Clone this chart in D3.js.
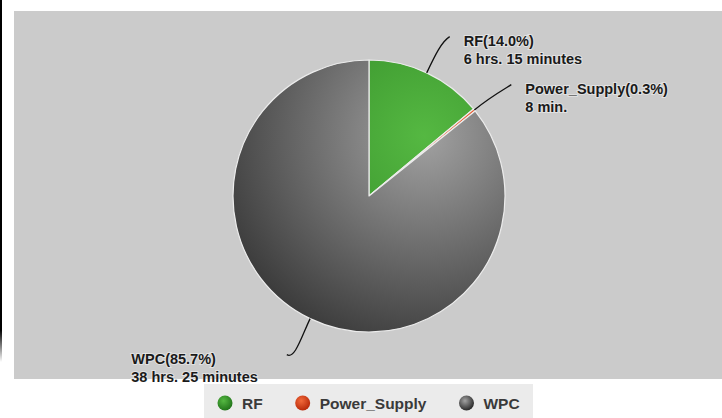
<!DOCTYPE html>
<html>
<head>
<meta charset="utf-8">
<script src="https://cdn.jsdelivr.net/npm/d3@7"></script>
<style>
  body { margin: 0; background: #fff; }
  svg { display: block; font-family: "Liberation Sans", Arial, sans-serif; }
</style>
</head>
<body>
<div id="chart"></div>
<script>
const W = 722, H = 418;

// data
const names = ["RF", "Power_Supply", "WPC"];
const minutes = [375, 8, 2305];
const pctLabels = ["14.0%", "0.3%", "85.7%"];
const durLabels = ["6 hrs. 15 minutes", "8 min.", "38 hrs. 25 minutes"];
const colorsLight = ["#55b842", "#f2693a", "#a2a2a2"];
const colorsDark = ["#22751a", "#b82a0a", "#2a2a2a"];

const cx = 369, cy = 196, radius = 136;

const svg = d3.select('#chart').append('svg')
  .attr('width', W)
  .attr('height', H);

svg.append('rect').attr('width', W).attr('height', H).attr('fill', '#fff');

const defs = svg.append('defs');

// slice gradients, light spot up and right of centre (coords relative to pie centre)
names.forEach((n, i) => {
  const g = defs.append('radialGradient')
    .attr('id', 'slice' + i)
    .attr('gradientUnits', 'userSpaceOnUse')
    .attr('cx', 55).attr('cy', -60).attr('r', 255);
  g.append('stop').attr('offset', '0%').attr('stop-color', colorsLight[i]);
  g.append('stop').attr('offset', '100%').attr('stop-color', colorsDark[i]);

  const m = defs.append('radialGradient')
    .attr('id', 'marker' + i)
    .attr('cx', '40%').attr('cy', '35%').attr('r', '65%');
  m.append('stop').attr('offset', '0%').attr('stop-color', colorsLight[i]);
  m.append('stop').attr('offset', '100%').attr('stop-color', colorsDark[i]);
});

const edge = defs.append('linearGradient')
  .attr('id', 'edgefade').attr('x1', 0).attr('y1', 0).attr('x2', 0).attr('y2', 1);
edge.append('stop').attr('offset', '0%').attr('stop-color', '#000');
edge.append('stop').attr('offset', '100%').attr('stop-color', '#fff');

// stray dark strip at the left edge
svg.append('rect').attr('x', 0).attr('y', 0).attr('width', 2).attr('height', 330).attr('fill', '#000');
svg.append('rect').attr('x', 0).attr('y', 330).attr('width', 2).attr('height', 32).attr('fill', 'url(#edgefade)');

// plot background
svg.append('rect')
  .attr('x', 14).attr('y', 11)
  .attr('width', W - 14).attr('height', 368)
  .attr('fill', '#cbcbcb');

const pie = d3.pie().sort(null).value(d => d);
const arcs = pie(minutes);
const arc = d3.arc().innerRadius(0).outerRadius(radius);

const g = svg.append('g').attr('transform', `translate(${cx},${cy})`);

g.selectAll('path.slice')
  .data(arcs)
  .enter()
  .append('path')
  .attr('class', 'slice')
  .attr('d', arc)
  .attr('fill', (d, i) => 'url(#slice' + i + ')')
  .attr('stroke', '#ececec')
  .attr('stroke-width', 1.2)
  .attr('stroke-linejoin', 'round');

// leader lines + labels
function polar(a, r) {
  return [Math.sin(a) * r, -Math.cos(a) * r];
}

const labels = svg.append('g').attr('transform', `translate(${cx},${cy})`);

arcs.forEach((d, i) => {
  const mid = (d.startAngle + d.endAngle) / 2;
  const side = Math.sin(mid) >= 0 ? 1 : -1;
  const p0 = polar(mid, radius);
  const p1 = polar(mid, radius + 20);
  const pe = polar(mid, radius + 40);
  pe[0] += side * 6;
  const c2 = [pe[0] - side * 8, pe[1] + 5];

  labels.append('path')
    .attr('d', `M${p0[0]},${p0[1]}C${p1[0]},${p1[1]} ${c2[0]},${c2[1]} ${pe[0]},${pe[1]}`)
    .attr('fill', 'none')
    .attr('stroke', '#111')
    .attr('stroke-width', 1.3);

  const t = labels.append('text')
    .attr('font-size', '14.5px')
    .attr('font-weight', 'bold')
    .attr('fill', '#1a1a1a')
    .attr('stroke', 'rgba(255,255,255,0.45)')
    .attr('stroke-width', 2)
    .attr('paint-order', 'stroke');
  const l1 = t.append('tspan').attr('y', pe[1] + 9).text(names[i] + '(' + pctLabels[i] + ')');
  const l2 = t.append('tspan').attr('y', pe[1] + 27).text(durLabels[i]);

  let x;
  if (side > 0) {
    x = pe[0] + 14;
  } else {
    const w = Math.max(l1.node().getComputedTextLength(), l2.node().getComputedTextLength());
    x = pe[0] - 29 - w;
  }
  l1.attr('x', x);
  l2.attr('x', x);
});

// legend
svg.append('rect')
  .attr('x', 204).attr('y', 384)
  .attr('width', 329).attr('height', 36)
  .attr('fill', '#ebebeb');

const legend = svg.append('g').attr('class', 'legend');
let lx = 225;
names.forEach((n, i) => {
  legend.append('circle')
    .attr('cx', lx).attr('cy', 403).attr('r', 7.5)
    .attr('fill', 'url(#marker' + i + ')');
  const t = legend.append('text')
    .attr('x', lx + 17).attr('y', 408.5)
    .attr('font-size', '15.5px')
    .attr('font-weight', 'bold')
    .attr('fill', '#3a3a3a')
    .text(n);
  lx += 17 + t.node().getComputedTextLength() + 40;
});
</script>
</body>
</html>
